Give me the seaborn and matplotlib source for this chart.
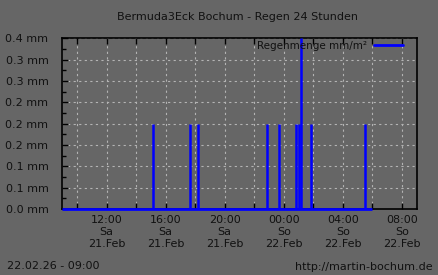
import matplotlib
matplotlib.use("Agg")
import matplotlib.pyplot as plt
import matplotlib.dates as mdates
import matplotlib.ticker as mticker
import numpy as np
import pandas as pd
import seaborn as sns
from matplotlib.lines import Line2D

# ---- data ----
title = "Bermuda3Eck Bochum - Regen 24 Stunden"
series_label = "Regenmenge mm/m²"
rain_times = ["2026-02-21 15:08", "2026-02-21 17:39", "2026-02-21 18:11",
              "2026-02-21 22:52", "2026-02-21 23:40", "2026-02-22 00:50",
              "2026-02-22 01:01", "2026-02-22 01:10", "2026-02-22 01:50",
              "2026-02-22 05:30"]
rain_mm = [0.2, 0.2, 0.2, 0.2, 0.2, 0.2, 0.2, 0.4, 0.2, 0.2]
data_start = "2026-02-21 09:00"
data_end = "2026-02-22 05:57"
x_start = "2026-02-21 09:00"
x_end = "2026-02-22 09:00"
y_tick_values = [0.0, 0.05, 0.10, 0.15, 0.20, 0.25, 0.30, 0.35, 0.40]
y_tick_labels = ["0.0 mm", "0.1 mm", "0.1 mm", "0.2 mm", "0.2 mm",
                 "0.2 mm", "0.3 mm", "0.3 mm", "0.4 mm"]
x_label_hours = [12, 16, 20, 0, 4, 8]
weekday_de = {5: "Sa", 6: "So"}
footer_left = "22.02.26 - 09:00"
footer_right = "http://martin-bochum.de"

BG = "#666666"
TXT = "#111111"
GRID = "#b4b4b4"

sns.set_style("ticks")
plt.rcParams["font.family"] = ["DejaVu Sans"]

fig = plt.figure(figsize=(4.38, 2.75), dpi=100, facecolor=BG)
ax = fig.add_axes([62.3 / 438, 1 - 209 / 275, 354.4 / 438, 170.7 / 275])
ax.set_facecolor(BG)

# impulses
imp = pd.DataFrame({
    "time": pd.to_datetime(np.repeat(rain_times, 2)),
    "mm": np.ravel([[0.0, v] for v in rain_mm]),
    "id": np.repeat(np.arange(len(rain_times)), 2),
})
base = pd.DataFrame({"time": pd.to_datetime([data_start, data_end]), "mm": [0.0, 0.0]})

sns.lineplot(data=base, x="time", y="mm", color="#0000ff", lw=2.0, ax=ax,
             estimator=None, legend=False, zorder=4)
sns.lineplot(data=imp, x="time", y="mm", units="id", estimator=None,
             color="#0000ff", lw=1.8, ax=ax, legend=False, zorder=5)
for l in ax.lines:
    l.set_clip_on(False)
    l.set_solid_capstyle("butt")

ax.set_xlim(pd.Timestamp(x_start), pd.Timestamp(x_end))
ax.set_ylim(0, 0.4)

# x ticks every 2 h, labels every 4 h
ax.xaxis.set_major_locator(mdates.HourLocator(byhour=range(0, 24, 2)))

def xfmt(v, pos):
    d = mdates.num2date(v)
    if d.hour in x_label_hours and d.minute == 0:
        return f"{d:%H:%M}\n{weekday_de[d.weekday()]}\n{d.day}.{d:%b}"
    return ""

ax.xaxis.set_major_formatter(mticker.FuncFormatter(xfmt))
ax.set_yticks(y_tick_values)
ax.set_yticklabels(y_tick_labels)
ax.yaxis.set_minor_locator(mticker.MultipleLocator(0.025))

ax.tick_params(axis="x", which="major", direction="in", length=4, width=1,
               colors="black", labelcolor=TXT, labelsize=8, top=True, pad=4)
ax.tick_params(axis="y", which="major", direction="in", length=4, width=1,
               colors="black", labelcolor=TXT, labelsize=8, pad=10)
ax.tick_params(axis="y", which="minor", direction="in", length=3, width=1,
               colors="black", right=False)
for lab in ax.get_xticklabels():
    lab.set_linespacing(1.25)

ax.grid(True, which="major", color=GRID, linestyle=(0, (2, 3)), lw=0.8)
ax.set_axisbelow(True)
for s in ax.spines.values():
    s.set_visible(True)
    s.set_color("black")
    s.set_linewidth(1.2)
ax.set_xlabel("")
ax.set_ylabel("")

leg = ax.legend(handles=[Line2D([0], [0], color="#0000ff", lw=2)],
                labels=[series_label], loc="center right", frameon=False,
                markerfirst=False, fontsize=7.5, handlelength=2.8,
                borderaxespad=0.0, borderpad=0.0, handletextpad=0.7,
                bbox_to_anchor=(0.962, 0.955))
for t in leg.get_texts():
    t.set_color(TXT)

fig.text(237.5 / 438, 1 - 17.3 / 275, title, ha="center", va="center",
         fontsize=8, color=TXT)
fig.text(7 / 438, 1 - 266 / 275, footer_left, ha="left", va="center",
         fontsize=8, color=TXT)
fig.text(433 / 438, 1 - 267 / 275, footer_right, ha="right", va="center",
         fontsize=8, color=TXT)

fig.savefig("out.png", dpi=100, facecolor=BG)
